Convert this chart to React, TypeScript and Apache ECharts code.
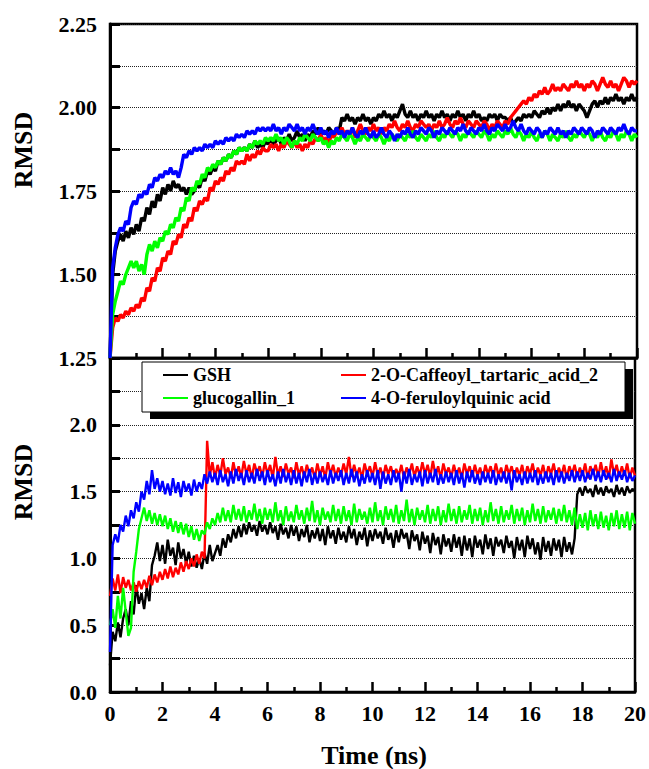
import React, { useEffect, useRef } from "react";
import * as echarts from "echarts";

// time axis: 0 .. 20 ns, step 0.1 ns
const TIME: number[] = Array.from({ length: 201 }, (_, i) => Math.round(i) / 10);

// ---------- top panel ----------
const topGSH = [
  1.25, 1.50, 1.57, 1.60, 1.62, 1.60, 1.63, 1.61, 1.64, 1.62,
  1.65, 1.63, 1.67, 1.66, 1.70, 1.68, 1.72, 1.70, 1.74, 1.72,
  1.76, 1.74, 1.77, 1.75, 1.78, 1.76, 1.77, 1.75, 1.76, 1.74,
  1.76, 1.74, 1.75, 1.77, 1.76, 1.79, 1.78, 1.81, 1.80, 1.82,
  1.81, 1.84, 1.83, 1.85, 1.84, 1.86, 1.85, 1.87, 1.86, 1.88,
  1.87, 1.88, 1.87, 1.89, 1.88, 1.90, 1.88, 1.89, 1.88, 1.90,
  1.89, 1.91, 1.89, 1.90, 1.91, 1.89, 1.91, 1.90, 1.92, 1.90,
  1.91, 1.93, 1.91, 1.92, 1.90, 1.92, 1.91, 1.93, 1.92, 1.94,
  1.92, 1.93, 1.92, 1.94, 1.93, 1.92, 1.94, 1.93, 1.97, 1.96,
  1.98, 1.96, 1.97, 1.95, 1.97, 1.96, 1.98, 1.96, 1.97, 1.95,
  1.97, 1.96, 1.98, 1.97, 1.99, 1.97, 1.98, 1.96, 1.98, 1.97,
  1.99, 2.01, 1.98, 1.97, 1.99, 1.97, 1.98, 1.96, 1.98, 1.97,
  1.99, 1.97, 1.98, 1.96, 1.98, 1.97, 1.99, 1.97, 1.98, 1.96,
  1.98, 1.97, 1.99, 1.97, 1.98, 1.96, 1.98, 1.97, 1.99, 1.97,
  1.98, 1.96, 1.97, 1.96, 1.98, 1.97, 1.98, 1.96, 1.98, 1.97,
  1.97, 1.96, 1.97, 1.95, 1.96, 1.97, 1.96, 1.98, 1.97, 1.98,
  1.97, 1.99, 1.98, 1.97, 1.99, 1.98, 2.00, 1.98, 2.00, 1.99,
  2.01, 1.99, 2.01, 2.00, 2.02, 2.00, 2.01, 1.99, 2.01, 2.00,
  1.99, 1.97, 1.99, 2.01, 2.02, 2.00, 2.02, 2.01, 2.03, 2.01,
  2.03, 2.02, 2.04, 2.02, 2.03, 2.01, 2.03, 2.02, 2.04, 2.02,
  2.03,
];
const topCaffeoyl = [
  1.25, 1.34, 1.37, 1.36, 1.38, 1.37, 1.39, 1.38, 1.40, 1.39,
  1.41, 1.40, 1.43, 1.42, 1.46, 1.45, 1.49, 1.48, 1.52, 1.51,
  1.55, 1.54, 1.57, 1.56, 1.60, 1.59, 1.62, 1.61, 1.65, 1.64,
  1.67, 1.66, 1.70, 1.69, 1.72, 1.71, 1.73, 1.72, 1.76, 1.75,
  1.78, 1.77, 1.79, 1.78, 1.81, 1.80, 1.82, 1.81, 1.84, 1.83,
  1.84, 1.83, 1.86, 1.84, 1.86, 1.85, 1.87, 1.86, 1.88, 1.87,
  1.87, 1.89, 1.88, 1.89, 1.87, 1.89, 1.88, 1.90, 1.89, 1.88,
  1.90, 1.88, 1.89, 1.87, 1.89, 1.88, 1.90, 1.89, 1.91, 1.90,
  1.92, 1.90, 1.91, 1.89, 1.92, 1.91, 1.93, 1.92, 1.94, 1.92,
  1.93, 1.92, 1.94, 1.91, 1.93, 1.95, 1.93, 1.92, 1.94, 1.93,
  1.95, 1.93, 1.94, 1.92, 1.94, 1.93, 1.95, 1.94, 1.96, 1.94,
  1.93, 1.95, 1.94, 1.96, 1.94, 1.93, 1.95, 1.94, 1.96, 1.95,
  1.94, 1.95, 1.93, 1.95, 1.94, 1.96, 1.94, 1.95, 1.97, 1.95,
  1.94, 1.96, 1.95, 1.97, 1.95, 1.94, 1.96, 1.95, 1.94, 1.96,
  1.95, 1.94, 1.96, 1.95, 1.93, 1.95, 1.94, 1.96, 1.95, 1.94,
  1.96, 1.95, 1.97, 1.98, 1.99, 2.00, 2.01, 2.02, 2.01, 2.03,
  2.02, 2.04, 2.03, 2.05, 2.04, 2.06, 2.04, 2.05, 2.07, 2.05,
  2.06, 2.05, 2.07, 2.06, 2.05, 2.07, 2.06, 2.08, 2.06, 2.07,
  2.05, 2.07, 2.06, 2.08, 2.07, 2.05, 2.07, 2.09, 2.07, 2.06,
  2.08, 2.06, 2.07, 2.05, 2.07, 2.09, 2.08, 2.06, 2.08, 2.07,
  2.08,
];
const topGlucogallin = [
  1.25, 1.38, 1.42, 1.45, 1.48, 1.47, 1.50, 1.52, 1.54, 1.52,
  1.54, 1.51, 1.53, 1.50, 1.56, 1.59, 1.57, 1.60, 1.58, 1.61,
  1.60, 1.63, 1.62, 1.65, 1.64, 1.67, 1.66, 1.70, 1.69, 1.73,
  1.72, 1.76, 1.75, 1.78, 1.77, 1.80, 1.79, 1.82, 1.81, 1.83,
  1.82, 1.84, 1.83, 1.85, 1.84, 1.86, 1.85, 1.87, 1.86, 1.88,
  1.87, 1.88, 1.87, 1.89, 1.88, 1.90, 1.89, 1.90, 1.89, 1.91,
  1.90, 1.91, 1.90, 1.92, 1.90, 1.91, 1.89, 1.91, 1.90, 1.88,
  1.90, 1.89, 1.91, 1.90, 1.92, 1.91, 1.90, 1.92, 1.91, 1.90,
  1.91, 1.89, 1.90, 1.88, 1.90, 1.89, 1.91, 1.90, 1.92, 1.91,
  1.90, 1.92, 1.91, 1.89, 1.91, 1.90, 1.92, 1.91, 1.90, 1.92,
  1.91, 1.90, 1.92, 1.91, 1.89, 1.91, 1.90, 1.92, 1.91, 1.90,
  1.92, 1.91, 1.90, 1.92, 1.91, 1.93, 1.91, 1.90, 1.92, 1.91,
  1.90, 1.92, 1.91, 1.93, 1.91, 1.90, 1.92, 1.91, 1.93, 1.92,
  1.91, 1.93, 1.92, 1.90, 1.92, 1.91, 1.93, 1.92, 1.91, 1.93,
  1.92, 1.91, 1.93, 1.92, 1.90, 1.92, 1.91, 1.93, 1.92, 1.91,
  1.93, 1.92, 1.94, 1.92, 1.91, 1.93, 1.92, 1.90, 1.92, 1.91,
  1.93, 1.91, 1.90, 1.92, 1.91, 1.93, 1.92, 1.90, 1.92, 1.91,
  1.90, 1.92, 1.91, 1.93, 1.91, 1.90, 1.92, 1.91, 1.93, 1.92,
  1.91, 1.93, 1.92, 1.90, 1.92, 1.91, 1.93, 1.91, 1.90, 1.92,
  1.91, 1.93, 1.92, 1.90, 1.92, 1.91, 1.93, 1.92, 1.90, 1.92,
  1.91,
];
const topFeruloyl = [
  1.25, 1.52, 1.58, 1.62, 1.64, 1.63, 1.66, 1.65, 1.70, 1.72,
  1.71, 1.74, 1.73, 1.75, 1.74, 1.77, 1.76, 1.79, 1.78, 1.80,
  1.79, 1.81, 1.80, 1.82, 1.80, 1.81, 1.79, 1.82, 1.86, 1.85,
  1.87, 1.86, 1.88, 1.87, 1.88, 1.87, 1.89, 1.88, 1.89, 1.88,
  1.90, 1.89, 1.90, 1.89, 1.91, 1.90, 1.91, 1.90, 1.92, 1.91,
  1.92, 1.91, 1.93, 1.92, 1.93, 1.92, 1.94, 1.93, 1.94, 1.93,
  1.94, 1.93, 1.95, 1.93, 1.94, 1.92, 1.94, 1.93, 1.95, 1.94,
  1.93, 1.95, 1.93, 1.94, 1.92, 1.94, 1.93, 1.95, 1.93, 1.92,
  1.94, 1.92, 1.93, 1.91, 1.93, 1.92, 1.94, 1.92, 1.93, 1.91,
  1.93, 1.92, 1.94, 1.92, 1.91, 1.93, 1.92, 1.94, 1.92, 1.91,
  1.93, 1.91, 1.92, 1.94, 1.92, 1.91, 1.93, 1.92, 1.90, 1.92,
  1.91, 1.93, 1.92, 1.94, 1.92, 1.91, 1.93, 1.92, 1.94, 1.93,
  1.92, 1.94, 1.93, 1.91, 1.93, 1.92, 1.94, 1.93, 1.92, 1.94,
  1.93, 1.92, 1.94, 1.93, 1.95, 1.93, 1.92, 1.94, 1.93, 1.92,
  1.94, 1.93, 1.95, 1.93, 1.92, 1.94, 1.93, 1.95, 1.94, 1.93,
  1.95, 1.93, 1.94, 1.96, 1.94, 1.93, 1.95, 1.93, 1.92, 1.94,
  1.93, 1.92, 1.94, 1.93, 1.91, 1.93, 1.92, 1.94, 1.93, 1.92,
  1.94, 1.92, 1.93, 1.91, 1.93, 1.92, 1.94, 1.93, 1.92, 1.94,
  1.93, 1.92, 1.94, 1.93, 1.91, 1.93, 1.92, 1.94, 1.93, 1.92,
  1.94, 1.93, 1.92, 1.94, 1.93, 1.95, 1.93, 1.92, 1.94, 1.93,
  1.93,
];

// ---------- bottom panel ----------
const botGSH = [
  0.20, 0.45, 0.38, 0.52, 0.41, 0.55, 0.62, 0.50, 0.68, 0.58,
  0.80, 0.66, 0.74, 0.62, 0.78, 0.68, 0.95, 1.02, 1.12, 0.98,
  1.10, 0.96, 1.14, 1.02, 1.08, 0.95, 1.12, 1.00, 1.07, 0.96,
  1.05, 0.94, 1.02, 0.93, 1.00, 0.92, 1.04, 0.96, 1.10, 0.98,
  1.04, 1.10, 1.02, 1.15, 1.08, 1.18, 1.12, 1.22, 1.15, 1.24,
  1.16, 1.26, 1.18, 1.27, 1.20, 1.25, 1.17, 1.28, 1.20, 1.25,
  1.18, 1.27, 1.19, 1.24, 1.14, 1.26, 1.18, 1.23, 1.15, 1.25,
  1.17, 1.24, 1.13, 1.22, 1.16, 1.25, 1.12, 1.21, 1.15, 1.23,
  1.13, 1.22, 1.10, 1.24, 1.15, 1.21, 1.11, 1.23, 1.14, 1.20,
  1.12, 1.24, 1.15, 1.22, 1.10, 1.20, 1.14, 1.23, 1.09, 1.21,
  1.13, 1.22, 1.15, 1.20, 1.11, 1.23, 1.14, 1.19, 1.08, 1.21,
  1.12, 1.22, 1.15, 1.19, 1.07, 1.21, 1.13, 1.18, 1.06, 1.20,
  1.11, 1.17, 1.04, 1.19, 1.10, 1.16, 1.03, 1.18, 1.09, 1.15,
  1.05, 1.18, 1.08, 1.16, 1.02, 1.17, 1.06, 1.15, 1.01, 1.17,
  1.08, 1.14, 1.03, 1.18, 1.07, 1.15, 1.02, 1.16, 1.09, 1.14,
  1.04, 1.17, 1.08, 1.13, 1.00, 1.16, 1.06, 1.14, 1.01, 1.17,
  1.07, 1.15, 1.03, 1.12, 0.99, 1.16, 1.05, 1.13, 1.02, 1.15,
  1.06, 1.14, 1.01, 1.16, 1.05, 1.12, 1.03, 1.15, 1.48, 1.53,
  1.47, 1.54, 1.49, 1.52, 1.46, 1.55, 1.48, 1.53, 1.47, 1.54,
  1.49, 1.52, 1.46, 1.55, 1.48, 1.53, 1.47, 1.54, 1.49, 1.52,
  1.50,
];
const botCaffeoyl = [
  0.72, 0.85, 0.76, 0.88, 0.74, 0.86, 0.78, 0.84, 0.76, 0.82,
  0.75, 0.83, 0.77, 0.84, 0.78, 0.87, 0.80, 0.88, 0.82, 0.90,
  0.84, 0.92, 0.85, 0.94, 0.86, 0.93, 0.88, 0.97, 0.90, 0.98,
  0.92, 1.00, 0.94, 1.03, 0.96, 1.05, 1.00, 1.88, 1.62, 1.72,
  1.60, 1.70, 1.62, 1.75, 1.63, 1.68, 1.60, 1.72, 1.62, 1.69,
  1.61, 1.73, 1.63, 1.70, 1.60, 1.71, 1.64, 1.69, 1.61, 1.72,
  1.63, 1.70, 1.60, 1.76, 1.62, 1.69, 1.61, 1.71, 1.63, 1.68,
  1.60, 1.72, 1.62, 1.69, 1.61, 1.70, 1.63, 1.68, 1.60, 1.71,
  1.62, 1.69, 1.60, 1.72, 1.63, 1.70, 1.61, 1.68, 1.62, 1.71,
  1.63, 1.76, 1.61, 1.70, 1.62, 1.68, 1.60, 1.71, 1.63, 1.69,
  1.61, 1.72, 1.62, 1.68, 1.60, 1.70, 1.63, 1.69, 1.61, 1.67,
  1.62, 1.70, 1.60, 1.68, 1.63, 1.71, 1.61, 1.69, 1.62, 1.72,
  1.63, 1.70, 1.61, 1.73, 1.62, 1.69, 1.60, 1.71, 1.63, 1.68,
  1.61, 1.70, 1.62, 1.68, 1.60, 1.71, 1.63, 1.69, 1.61, 1.70,
  1.62, 1.68, 1.60, 1.70, 1.63, 1.69, 1.61, 1.71, 1.62, 1.68,
  1.60, 1.70, 1.63, 1.69, 1.61, 1.68, 1.62, 1.70, 1.60, 1.69,
  1.63, 1.71, 1.61, 1.68, 1.62, 1.70, 1.60, 1.69, 1.63, 1.71,
  1.61, 1.68, 1.62, 1.70, 1.60, 1.69, 1.63, 1.70, 1.61, 1.68,
  1.62, 1.71, 1.60, 1.69, 1.63, 1.70, 1.61, 1.72, 1.62, 1.69,
  1.60, 1.74, 1.63, 1.70, 1.61, 1.69, 1.62, 1.71, 1.60, 1.68,
  1.62,
];
const botGlucogallin = [
  0.50, 0.62, 0.48, 0.72, 0.55, 0.78, 0.60, 0.42, 0.48, 0.90,
  1.05, 1.22, 1.30, 1.38, 1.28, 1.36, 1.26, 1.34, 1.25, 1.33,
  1.24, 1.32, 1.22, 1.30, 1.20, 1.28, 1.19, 1.27, 1.18, 1.26,
  1.16, 1.24, 1.14, 1.22, 1.13, 1.21, 1.18, 1.27, 1.22, 1.30,
  1.25, 1.34, 1.27, 1.38, 1.28, 1.36, 1.27, 1.40, 1.29, 1.37,
  1.28, 1.39, 1.27, 1.36, 1.29, 1.41, 1.28, 1.37, 1.26, 1.38,
  1.29, 1.37, 1.27, 1.42, 1.28, 1.36, 1.25, 1.39, 1.28, 1.35,
  1.27, 1.40, 1.29, 1.36, 1.26, 1.38, 1.28, 1.43, 1.27, 1.36,
  1.25, 1.38, 1.29, 1.35, 1.27, 1.40, 1.28, 1.37, 1.26, 1.39,
  1.28, 1.36, 1.25, 1.41, 1.27, 1.37, 1.29, 1.35, 1.26, 1.38,
  1.27, 1.42, 1.28, 1.36, 1.25, 1.39, 1.29, 1.37, 1.27, 1.40,
  1.26, 1.36, 1.28, 1.44, 1.27, 1.37, 1.25, 1.38, 1.29, 1.36,
  1.27, 1.40, 1.26, 1.37, 1.28, 1.39, 1.25, 1.36, 1.27, 1.41,
  1.28, 1.37, 1.26, 1.39, 1.27, 1.36, 1.29, 1.40, 1.26, 1.37,
  1.28, 1.38, 1.25, 1.36, 1.27, 1.42, 1.28, 1.37, 1.26, 1.39,
  1.27, 1.36, 1.29, 1.40, 1.26, 1.37, 1.28, 1.38, 1.25, 1.36,
  1.27, 1.41, 1.28, 1.37, 1.26, 1.39, 1.27, 1.36, 1.29, 1.38,
  1.26, 1.37, 1.28, 1.40, 1.27, 1.36, 1.25, 1.38, 1.22, 1.33,
  1.23, 1.34, 1.21, 1.36, 1.24, 1.33, 1.22, 1.35, 1.23, 1.32,
  1.21, 1.34, 1.24, 1.36, 1.22, 1.33, 1.23, 1.35, 1.21, 1.34,
  1.26,
];
const botFeruloyl = [
  0.30, 1.10, 1.18, 1.12, 1.25, 1.20, 1.32, 1.24, 1.36, 1.30,
  1.42, 1.35, 1.50, 1.44, 1.58, 1.48, 1.66, 1.52, 1.60, 1.50,
  1.58, 1.48, 1.56, 1.47, 1.60, 1.49, 1.57, 1.46, 1.58, 1.50,
  1.56, 1.47, 1.59, 1.50, 1.57, 1.52, 1.63, 1.56, 1.65, 1.57,
  1.64, 1.55, 1.66, 1.57, 1.63, 1.54, 1.65, 1.56, 1.67, 1.58,
  1.64, 1.55, 1.66, 1.57, 1.64, 1.56, 1.67, 1.58, 1.65, 1.55,
  1.66, 1.57, 1.63, 1.54, 1.65, 1.56, 1.67, 1.57, 1.64, 1.55,
  1.66, 1.56, 1.64, 1.54, 1.65, 1.57, 1.67, 1.55, 1.64, 1.56,
  1.65, 1.57, 1.63, 1.55, 1.66, 1.56, 1.64, 1.58, 1.66, 1.55,
  1.64, 1.56, 1.67, 1.57, 1.65, 1.54, 1.63, 1.56, 1.66, 1.57,
  1.64, 1.55, 1.66, 1.52, 1.65, 1.56, 1.63, 1.55, 1.66, 1.57,
  1.64, 1.50, 1.65, 1.56, 1.67, 1.55, 1.63, 1.57, 1.65, 1.54,
  1.66, 1.56, 1.64, 1.57, 1.67, 1.55, 1.63, 1.56, 1.65, 1.57,
  1.64, 1.55, 1.66, 1.56, 1.64, 1.53, 1.65, 1.57, 1.66, 1.56,
  1.63, 1.55, 1.65, 1.57, 1.64, 1.56, 1.66, 1.55, 1.63, 1.57,
  1.65, 1.56, 1.64, 1.51, 1.66, 1.57, 1.63, 1.55, 1.65, 1.56,
  1.64, 1.57, 1.66, 1.55, 1.63, 1.56, 1.65, 1.57, 1.64, 1.55,
  1.66, 1.57, 1.65, 1.56, 1.64, 1.58, 1.66, 1.57, 1.65, 1.58,
  1.66, 1.57, 1.64, 1.59, 1.67, 1.58, 1.65, 1.57, 1.66, 1.59,
  1.64, 1.57, 1.67, 1.58, 1.65, 1.59, 1.66, 1.57, 1.64, 1.58,
  1.62,
];

const NAMES = ["GSH", "2-O-Caffeoyl_tartaric_acid_2", "glucogallin_1", "4-O-feruloylquinic acid"];
const COLORS = ["#000000", "#ff0000", "#00ff00", "#0000ff"];
const TOP_SERIES = [topGSH, topCaffeoyl, topGlucogallin, topFeruloyl];
const BOT_SERIES = [botGSH, botCaffeoyl, botGlucogallin, botFeruloyl];

const FONT = "Liberation Serif";

export default function App() {
  const ref = useRef<HTMLDivElement>(null);
  useEffect(() => {
    if (!ref.current) return;
    const chart = echarts.init(ref.current, null, { renderer: "svg" });
    const pair = (arr: number[]) => arr.map((v, i) => [TIME[i], v]);
    const labelStyle = { fontFamily: FONT, fontWeight: "bold" as const, fontSize: 22, color: "#000" };
    const xAxisBase = (gridIndex: number, showLabels: boolean) => ({
      type: "value",
      gridIndex,
      min: 0,
      max: 20,
      interval: 2,
      axisLine: { show: true, lineStyle: { color: "#000", width: 2.5 } },
      axisTick: { show: true, inside: true, length: 10, lineStyle: { color: "#000", width: 2.5 } },
      minorTick: { show: true, splitNumber: 2, length: 5, lineStyle: { color: "#000", width: 2.5 } },
      splitLine: { show: false },
      axisLabel: { show: showLabels, margin: 10, ...labelStyle },
    });
    const yTicks = { show: true, inside: true, length: 10, lineStyle: { color: "#000", width: 3 } };
    const split = { show: true, lineStyle: { color: "#222", width: 1, type: "dotted" as const } };
    const series: any[] = [];
    [0, 1, 2, 3].forEach((k) => {
      series.push({
        type: "line",
        name: NAMES[k],
        xAxisIndex: 0,
        yAxisIndex: 0,
        data: pair(TOP_SERIES[k]),
        showSymbol: false,
        symbol: "none",
        lineStyle: { color: COLORS[k], width: 3.4 },
        itemStyle: { color: COLORS[k] },
        z: 2 + k,
      });
    });
    [0, 1, 2, 3].forEach((k) => {
      series.push({
        type: "line",
        name: NAMES[k],
        xAxisIndex: 1,
        yAxisIndex: 1,
        data: pair(BOT_SERIES[k]),
        showSymbol: false,
        symbol: "none",
        lineStyle: { color: COLORS[k], width: 2.4 },
        itemStyle: { color: COLORS[k] },
        z: 2 + k,
      });
    });
    const legendText = { fontFamily: FONT, fontWeight: "bold" as const, fontSize: 18, color: "#000" };
    const option: any = {
      animation: false,
      backgroundColor: "#fff",
      grid: [
        { left: 110, top: 24, width: 527, height: 334, show: true, borderColor: "#000", borderWidth: 2.5, backgroundColor: "transparent" },
        { left: 110, top: 358, width: 527, height: 334, show: true, borderColor: "#000", borderWidth: 2.5, backgroundColor: "transparent" },
      ],
      xAxis: [xAxisBase(0, false), xAxisBase(1, true)],
      yAxis: [
        {
          type: "value",
          gridIndex: 0,
          min: 1.25,
          max: 2.25,
          interval: 0.125,
          axisLine: { show: true, lineStyle: { color: "#000", width: 3 } },
          axisTick: yTicks,
          splitLine: split,
          axisLabel: {
            margin: 13,
            ...labelStyle,
            formatter: (v: number) => (Math.abs(v * 4 - Math.round(v * 4)) < 1e-6 ? v.toFixed(2) : ""),
          },
        },
        {
          type: "value",
          gridIndex: 1,
          min: 0,
          max: 2.5,
          interval: 0.25,
          axisLine: { show: true, lineStyle: { color: "#000", width: 3 } },
          axisTick: yTicks,
          splitLine: split,
          axisLabel: {
            margin: 13,
            ...labelStyle,
            formatter: (v: number) =>
              Math.abs(v * 2 - Math.round(v * 2)) < 1e-6 && v < 2.4 ? v.toFixed(1) : "",
          },
        },
      ],
      legend: [
        {
          data: [NAMES[0], NAMES[2]],
          orient: "vertical",
          left: 163,
          top: 366,
          padding: 0,
          icon: "rect",
          itemWidth: 25,
          itemHeight: 2,
          itemGap: 5,
          itemTextGap: 4,
          textStyle: legendText,
          z: 100,
        },
        {
          data: [NAMES[1], NAMES[3]],
          orient: "vertical",
          left: 341,
          top: 366,
          padding: 0,
          icon: "rect",
          itemWidth: 25,
          itemHeight: 2,
          itemGap: 5,
          itemTextGap: 4,
          textStyle: legendText,
          z: 100,
        },
      ],
      graphic: [
        { type: "rect", z: 50, shape: { x: 150, y: 369, width: 483, height: 50 }, style: { fill: "#000" } },
        { type: "rect", z: 51, shape: { x: 142, y: 362, width: 483, height: 50 }, style: { fill: "#fff", stroke: "#000", lineWidth: 1 } },
        {
          type: "text", z: 60, x: 23, y: 150, rotation: Math.PI / 2,
          style: { text: "RMSD", fontFamily: FONT, fontWeight: "bold", fontSize: 26, fill: "#000", align: "center", verticalAlign: "middle" },
        },
        {
          type: "text", z: 60, x: 23, y: 482, rotation: Math.PI / 2,
          style: { text: "RMSD", fontFamily: FONT, fontWeight: "bold", fontSize: 26, fill: "#000", align: "center", verticalAlign: "middle" },
        },
        {
          type: "text", z: 60, x: 374, y: 755,
          style: { text: "Time (ns)", fontFamily: FONT, fontWeight: "bold", fontSize: 26, fill: "#000", align: "center", verticalAlign: "middle" },
        },
      ],
      series,
    };
    chart.setOption(option);
    return () => chart.dispose();
  }, []);
  return <div ref={ref} style={{ position: "fixed", left: 0, top: 0, width: 649, height: 769, background: "#fff" }} />;
}
